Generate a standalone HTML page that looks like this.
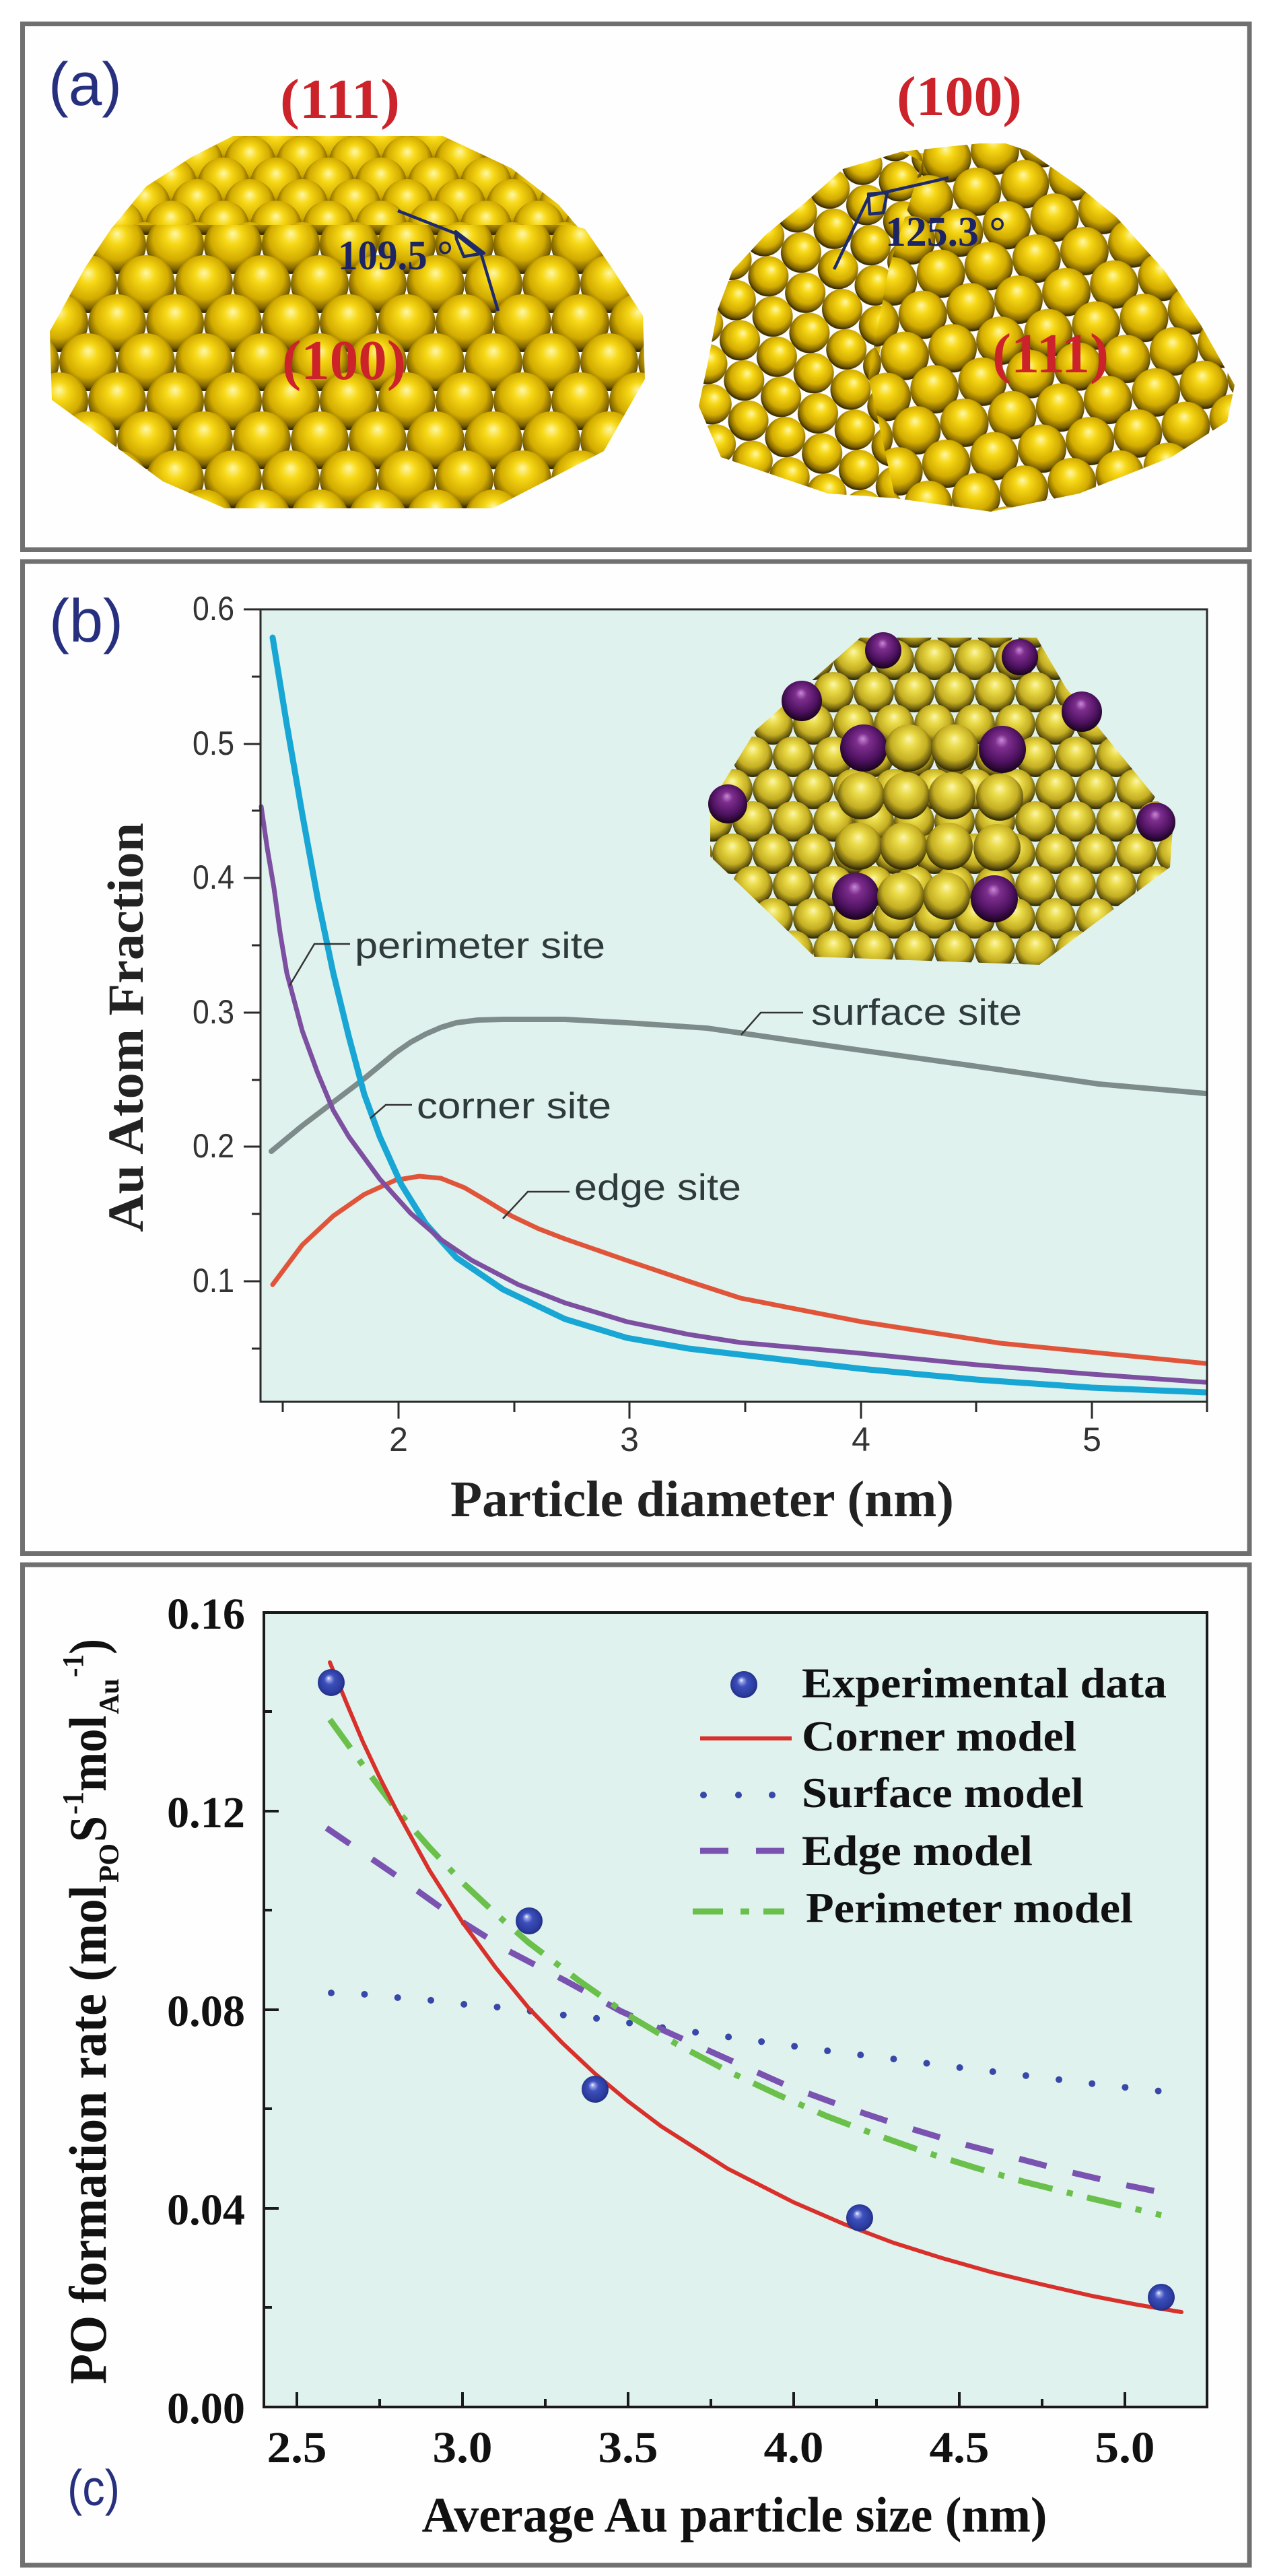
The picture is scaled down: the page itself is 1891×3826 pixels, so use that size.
<!DOCTYPE html>
<html><head><meta charset="utf-8"><style>html,body{margin:0;padding:0;background:#fff}svg{display:block}</style></head>
<body>
<svg xmlns="http://www.w3.org/2000/svg" width="1891" height="3826" viewBox="0 0 1891 3826">
<defs>
<radialGradient id="gY" cx="0.5" cy="0.42" r="0.56" fx="0.5" fy="0.3">
<stop offset="0" stop-color="#fff8a8"/><stop offset="0.28" stop-color="#f7d816"/><stop offset="0.68" stop-color="#d2ab00"/><stop offset="0.9" stop-color="#7d6200"/><stop offset="1" stop-color="#3a2c00"/>
</radialGradient>
<radialGradient id="gI" cx="0.5" cy="0.42" r="0.56" fx="0.5" fy="0.3">
<stop offset="0" stop-color="#fcf6b0"/><stop offset="0.28" stop-color="#eadb48"/><stop offset="0.68" stop-color="#c4ae22"/><stop offset="0.9" stop-color="#6a5c10"/><stop offset="1" stop-color="#332c06"/>
</radialGradient>
<radialGradient id="gP" cx="0.5" cy="0.42" r="0.56" fx="0.48" fy="0.3">
<stop offset="0" stop-color="#c88ad6"/><stop offset="0.25" stop-color="#7e2e8e"/><stop offset="0.7" stop-color="#4e1260"/><stop offset="1" stop-color="#1c0422"/>
</radialGradient>
<radialGradient id="gB" cx="0.5" cy="0.5" r="0.55" fx="0.4" fy="0.33">
<stop offset="0" stop-color="#ffffff"/><stop offset="0.12" stop-color="#9aa6e6"/><stop offset="0.35" stop-color="#3c4fbc"/><stop offset="0.8" stop-color="#2a3a9c"/><stop offset="1" stop-color="#1a2470"/>
</radialGradient>
<pattern id="pBig" patternUnits="userSpaceOnUse" width="86" height="116" x="45" y="103">
<circle cx="0" cy="-29" r="43" fill="url(#gY)"/><circle cx="86" cy="-29" r="43" fill="url(#gY)"/>
<circle cx="43" cy="29" r="43" fill="url(#gY)"/>
<circle cx="0" cy="87" r="43" fill="url(#gY)"/><circle cx="86" cy="87" r="43" fill="url(#gY)"/>
<circle cx="43" cy="145" r="43" fill="url(#gY)"/>
</pattern>
<pattern id="pTop" patternUnits="userSpaceOnUse" width="78" height="64" x="20" y="224">
<circle cx="0" cy="-16" r="38" fill="url(#gY)"/><circle cx="78" cy="-16" r="38" fill="url(#gY)"/>
<circle cx="39" cy="16" r="38" fill="url(#gY)"/>
<circle cx="0" cy="48" r="38" fill="url(#gY)"/><circle cx="78" cy="48" r="38" fill="url(#gY)"/>
<circle cx="39" cy="80" r="38" fill="url(#gY)"/>
</pattern>
<pattern id="pRL" patternUnits="userSpaceOnUse" width="60" height="104" x="0" y="0" patternTransform="rotate(24 1200 500)">
<circle cx="0" cy="-26" r="30" fill="url(#gY)"/><circle cx="60" cy="-26" r="30" fill="url(#gY)"/>
<circle cx="30" cy="26" r="30" fill="url(#gY)"/>
<circle cx="0" cy="78" r="30" fill="url(#gY)"/><circle cx="60" cy="78" r="30" fill="url(#gY)"/>
<circle cx="30" cy="130" r="30" fill="url(#gY)"/>
</pattern>
<pattern id="pR" patternUnits="userSpaceOnUse" width="72" height="112" x="10" y="20" patternTransform="rotate(-9 1550 500)">
<circle cx="0" cy="-28" r="36" fill="url(#gY)"/><circle cx="72" cy="-28" r="36" fill="url(#gY)"/>
<circle cx="36" cy="28" r="36" fill="url(#gY)"/>
<circle cx="0" cy="84" r="36" fill="url(#gY)"/><circle cx="72" cy="84" r="36" fill="url(#gY)"/>
<circle cx="36" cy="140" r="36" fill="url(#gY)"/>
</pattern>
<pattern id="pI" patternUnits="userSpaceOnUse" width="60" height="96" x="1058" y="956">
<circle cx="0" cy="-24" r="30" fill="url(#gI)"/><circle cx="60" cy="-24" r="30" fill="url(#gI)"/>
<circle cx="30" cy="24" r="30" fill="url(#gI)"/>
<circle cx="0" cy="72" r="30" fill="url(#gI)"/><circle cx="60" cy="72" r="30" fill="url(#gI)"/>
<circle cx="30" cy="120" r="30" fill="url(#gI)"/>
</pattern>
</defs>

<!-- Panel frames -->
<rect x="33.5" y="35.5" width="1822.5" height="781" fill="#fefefe" stroke="#707070" stroke-width="7"/>
<rect x="33.5" y="834" width="1822.5" height="1473.5" fill="#fefefe" stroke="#707070" stroke-width="7"/>
<rect x="33.5" y="2324" width="1822.5" height="1486" fill="#fefefe" stroke="#707070" stroke-width="7"/>

<!-- ===== Panel (a) ===== -->
<text x="72" y="156" font-family="Liberation Sans, sans-serif" font-size="90" fill="#27307f" textLength="109" lengthAdjust="spacingAndGlyphs">(a)</text>
<text x="416" y="175" font-family="Liberation Serif, serif" font-weight="bold" font-size="84" fill="#cc2229" textLength="178" lengthAdjust="spacingAndGlyphs">(111)</text>
<text x="1332" y="171" font-family="Liberation Serif, serif" font-weight="bold" font-size="84" fill="#cc2229" textLength="186" lengthAdjust="spacingAndGlyphs">(100)</text>

<!-- left cluster -->
<polygon points="346,202 658,202 760,250 830,304 865,345 860,372 170,372 165,340 217,277 285,233" fill="url(#pTop)"/>
<polygon points="175,334 848,334 869,340 909,398 955,469 958,563 897,670 732,755 334,755 242,715 77,594 74,492 126,398 165,340" fill="url(#pBig)"/>

<!-- right cluster -->
<polygon points="1252,251 1340,225 1400,230 1330,400 1300,560 1330,740 1230,733 1071,679 1038,603 1052,536 1066,460 1088,402 1137,349 1197,300" fill="url(#pRL)"/>
<polygon points="1340,225 1455,213 1494,213 1527,224 1603,277 1658,322 1730,402 1784,483 1834,572 1823,626 1740,679 1603,733 1472,760 1330,740 1290,560 1320,400 1370,240" fill="url(#pR)"/>

<!-- angle annotations -->
<g fill="none" stroke="#1e2a6e" stroke-width="4.5" stroke-linejoin="round">
<polyline points="591,313 675,346 715,378 740,462"/>
<polygon points="677,344 719,376 689,381 678,355"/>
<polyline points="1239,400 1291,291 1409,264"/>
<polygon points="1290,288 1318,286 1312,316 1292,318"/>
</g>
<text x="502" y="400" font-family="Liberation Serif, serif" font-weight="bold" font-size="62" fill="#1c2466" textLength="171" lengthAdjust="spacingAndGlyphs">109.5 °</text>
<text x="1315" y="365" font-family="Liberation Serif, serif" font-weight="bold" font-size="62" fill="#1c2466" textLength="179" lengthAdjust="spacingAndGlyphs">125.3 °</text>
<text x="419" y="563" font-family="Liberation Serif, serif" font-weight="bold" font-size="84" fill="#cc2229" textLength="184" lengthAdjust="spacingAndGlyphs">(100)</text>
<text x="1474" y="553" font-family="Liberation Serif, serif" font-weight="bold" font-size="84" fill="#cc2229" textLength="173" lengthAdjust="spacingAndGlyphs">(111)</text>

<!-- ===== Panel (b) ===== -->
<text x="73" y="953" font-family="Liberation Sans, sans-serif" font-size="90" fill="#27307f" textLength="110" lengthAdjust="spacingAndGlyphs">(b)</text>
<rect x="387" y="905" width="1406" height="1177" fill="#e0f2ee"/>

<!-- inset cluster -->
<polygon points="1278,947 1540,947 1583,1021 1743,1217 1738,1288 1544,1433 1210,1421 1055,1272 1055,1194 1123,1084" fill="url(#pI)"/>
<g>
<circle cx="1312" cy="966" r="27" fill="url(#gP)"/>
<circle cx="1515" cy="976" r="27" fill="url(#gP)"/>
<circle cx="1191" cy="1041" r="30" fill="url(#gP)"/>
<circle cx="1607" cy="1057" r="30" fill="url(#gP)"/>
<circle cx="1081" cy="1194" r="29" fill="url(#gP)"/>
<circle cx="1717" cy="1221" r="29" fill="url(#gP)"/>
</g>
<g>
<circle cx="1283" cy="1111" r="35" fill="url(#gP)"/><circle cx="1350" cy="1111" r="35" fill="url(#gI)"/><circle cx="1418" cy="1111" r="35" fill="url(#gI)"/><circle cx="1489" cy="1113" r="35" fill="url(#gP)"/>
<circle cx="1279" cy="1182" r="35" fill="url(#gI)"/><circle cx="1346" cy="1182" r="35" fill="url(#gI)"/><circle cx="1414" cy="1182" r="35" fill="url(#gI)"/><circle cx="1485" cy="1184" r="35" fill="url(#gI)"/>
<circle cx="1275" cy="1257" r="35" fill="url(#gI)"/><circle cx="1342" cy="1257" r="35" fill="url(#gI)"/><circle cx="1410" cy="1257" r="35" fill="url(#gI)"/><circle cx="1481" cy="1259" r="35" fill="url(#gI)"/>
<circle cx="1271" cy="1331" r="35" fill="url(#gP)"/><circle cx="1338" cy="1331" r="35" fill="url(#gI)"/><circle cx="1406" cy="1331" r="35" fill="url(#gI)"/><circle cx="1477" cy="1335" r="35" fill="url(#gP)"/>
</g>

<!-- curves (b) -->
<g fill="none" stroke-linejoin="round" stroke-linecap="round">
<polyline stroke="#7d8c8a" stroke-width="8" points="403,1710 449,1672 495,1637 541,1602 587,1564 610,1548 632,1536 655,1526 678,1519 710,1515 747,1514 839,1514 931,1519 1050,1527 1244,1555 1438,1582 1632,1610 1790,1624"/>
<polyline stroke="#e0553a" stroke-width="7" points="405,1908 449,1849 495,1806 541,1774 587,1753 623,1747 655,1750 690,1764 724,1784 760,1806 800,1825 839,1840 885,1856 931,1872 1023,1903 1100,1928 1279,1963 1486,1995 1790,2025"/>
<polyline stroke="#18a6d4" stroke-width="9" points="405,947 426,1076 449,1209 472,1335 495,1445 518,1539 541,1625 564,1688 596,1759 632,1817 678,1868 747,1915 839,1959 931,1987 1023,2003 1100,2012 1279,2033 1450,2049 1622,2061 1790,2068"/>
<polyline stroke="#7d4fa0" stroke-width="7" points="388,1198 397,1260 407,1319 416,1385 426,1445 449,1531 472,1594 495,1649 518,1688 564,1751 610,1802 655,1841 701,1872 770,1908 839,1935 931,1963 1023,1982 1100,1994 1279,2010 1450,2027 1622,2041 1790,2053"/>
</g>

<!-- leaders & labels (b) -->
<g fill="none" stroke="#333" stroke-width="2.5">
<polyline points="430,1464 467,1402 520,1402"/>
<polyline points="550,1661 573,1641 612,1641"/>
<polyline points="747,1810 784,1770 846,1770"/>
<polyline points="1101,1537 1130,1504 1193,1504"/>
</g>
<g font-family="Liberation Sans, sans-serif" font-size="55" fill="#2f3b3b">
<text x="527" y="1423" textLength="372" lengthAdjust="spacingAndGlyphs">perimeter site</text>
<text x="619" y="1661" textLength="289" lengthAdjust="spacingAndGlyphs">corner site</text>
<text x="853" y="1782" textLength="248" lengthAdjust="spacingAndGlyphs">edge site</text>
<text x="1205" y="1522" textLength="313" lengthAdjust="spacingAndGlyphs">surface site</text>
</g>

<!-- axes (b) -->
<rect x="387" y="905" width="1406" height="1177" fill="none" stroke="#2a2a2a" stroke-width="3"/>
<g stroke="#2a2a2a" stroke-width="3">
<line x1="420" y1="2082" x2="420" y2="2097"/><line x1="592" y1="2082" x2="592" y2="2107"/>
<line x1="764" y1="2082" x2="764" y2="2097"/><line x1="935" y1="2082" x2="935" y2="2107"/>
<line x1="1107" y1="2082" x2="1107" y2="2097"/><line x1="1279" y1="2082" x2="1279" y2="2107"/>
<line x1="1450" y1="2082" x2="1450" y2="2097"/><line x1="1622" y1="2082" x2="1622" y2="2107"/>
<line x1="1793" y1="2082" x2="1793" y2="2097"/>
<line x1="362" y1="905" x2="387" y2="905"/><line x1="374" y1="1005" x2="387" y2="1005"/>
<line x1="362" y1="1105" x2="387" y2="1105"/><line x1="374" y1="1204" x2="387" y2="1204"/>
<line x1="362" y1="1304" x2="387" y2="1304"/><line x1="374" y1="1404" x2="387" y2="1404"/>
<line x1="362" y1="1504" x2="387" y2="1504"/><line x1="374" y1="1604" x2="387" y2="1604"/>
<line x1="362" y1="1703" x2="387" y2="1703"/><line x1="374" y1="1803" x2="387" y2="1803"/>
<line x1="362" y1="1903" x2="387" y2="1903"/><line x1="374" y1="2003" x2="387" y2="2003"/>
</g>
<g font-family="Liberation Sans, sans-serif" font-size="50" fill="#333" text-anchor="end">
<text x="348" y="921" textLength="62" lengthAdjust="spacingAndGlyphs">0.6</text>
<text x="348" y="1121" textLength="62" lengthAdjust="spacingAndGlyphs">0.5</text>
<text x="348" y="1320" textLength="62" lengthAdjust="spacingAndGlyphs">0.4</text>
<text x="348" y="1520" textLength="62" lengthAdjust="spacingAndGlyphs">0.3</text>
<text x="348" y="1719" textLength="62" lengthAdjust="spacingAndGlyphs">0.2</text>
<text x="348" y="1919" textLength="62" lengthAdjust="spacingAndGlyphs">0.1</text>
</g>
<g font-family="Liberation Sans, sans-serif" font-size="50" fill="#333" text-anchor="middle">
<text x="592" y="2155">2</text><text x="935" y="2155">3</text><text x="1279" y="2155">4</text><text x="1622" y="2155">5</text>
</g>
<text transform="translate(212,1526) rotate(-90)" text-anchor="middle" font-family="Liberation Serif, serif" font-weight="bold" font-size="75" fill="#222" textLength="608" lengthAdjust="spacingAndGlyphs">Au Atom Fraction</text>
<text x="1043" y="2252" text-anchor="middle" font-family="Liberation Serif, serif" font-weight="bold" font-size="76" fill="#222" textLength="748" lengthAdjust="spacingAndGlyphs">Particle diameter (nm)</text>

<!-- ===== Panel (c) ===== -->
<rect x="392" y="2395" width="1401" height="1180" fill="#dff2ee"/>
<g fill="none" stroke-linejoin="round">
<polyline stroke="#3848a8" stroke-width="10" stroke-linecap="round" stroke-dasharray="0 49.5" points="492,2960 542,2962 591,2967 641,2971 690,2977 739,2981 789,2987 839,2993 888,2998 938,3005 1037,3019 1136,3033 1236,3047 1335,3059 1434,3072 1534,3084 1633,3096 1733,3107"/>
<polyline stroke="#7a52b0" stroke-width="9" stroke-dasharray="42 40" points="485,2715 589,2786 670,2844 756,2898 842,2943 922,2987 1089,3062 1170,3098 1254,3129 1338,3157 1421,3182 1505,3204 1589,3226 1670,3245 1753,3262"/>
<polyline stroke="#6ac04a" stroke-width="9" stroke-dasharray="52 22 9 22" points="490,2554 540,2623 589,2688 638,2744 687,2796 736,2842 785,2885 859,2941 933,2993 1007,3037 1081,3076 1155,3111 1228,3143 1302,3171 1376,3197 1450,3220 1523,3241 1624,3266 1725,3290"/>
<polyline stroke="#d8302a" stroke-width="6" stroke-linecap="round" points="490,2469 515,2530 539,2587 564,2640 589,2689 638,2778 687,2855 736,2922 785,2982 835,3034 884,3080 933,3121 982,3158 1081,3221 1179,3271 1253,3303 1327,3331 1400,3354 1474,3375 1548,3393 1622,3410 1689,3423 1755,3434"/>
</g>
<g>
<circle cx="492" cy="2499" r="20" fill="url(#gB)"/>
<circle cx="786" cy="2853" r="20" fill="url(#gB)"/>
<circle cx="884" cy="3103" r="20" fill="url(#gB)"/>
<circle cx="1277" cy="3294" r="20" fill="url(#gB)"/>
<circle cx="1725" cy="3412" r="20" fill="url(#gB)"/>
</g>

<!-- legend (c) -->
<circle cx="1105" cy="2502" r="20" fill="url(#gB)"/>
<line x1="1040" y1="2582" x2="1176" y2="2582" stroke="#d8302a" stroke-width="6"/>
<g fill="#3848a8"><circle cx="1045" cy="2666" r="5"/><circle cx="1097" cy="2666" r="5"/><circle cx="1147" cy="2666" r="5"/></g>
<g stroke="#7a52b0" stroke-width="9"><line x1="1040" y1="2749" x2="1082" y2="2749"/><line x1="1123" y1="2749" x2="1165" y2="2749"/></g>
<g stroke="#6ac04a" stroke-width="9"><line x1="1029" y1="2839" x2="1074" y2="2839"/><line x1="1100" y1="2839" x2="1113" y2="2839"/><line x1="1134" y1="2839" x2="1165" y2="2839"/></g>
<g font-family="Liberation Serif, serif" font-weight="bold" font-size="64" fill="#111">
<text x="1191" y="2521" textLength="542" lengthAdjust="spacingAndGlyphs">Experimental data</text>
<text x="1191" y="2600" textLength="408" lengthAdjust="spacingAndGlyphs">Corner model</text>
<text x="1191" y="2684" textLength="419" lengthAdjust="spacingAndGlyphs">Surface model</text>
<text x="1191" y="2770" textLength="343" lengthAdjust="spacingAndGlyphs">Edge model</text>
<text x="1197" y="2855" textLength="486" lengthAdjust="spacingAndGlyphs">Perimeter model</text>
</g>

<!-- axes (c) -->
<rect x="392" y="2395" width="1401" height="1180" fill="none" stroke="#1a1a1a" stroke-width="4"/>
<g stroke="#1a1a1a" stroke-width="4">
<line x1="441" y1="3575" x2="441" y2="3553"/><line x1="564" y1="3575" x2="564" y2="3563"/>
<line x1="687" y1="3575" x2="687" y2="3553"/><line x1="810" y1="3575" x2="810" y2="3563"/>
<line x1="933" y1="3575" x2="933" y2="3553"/><line x1="1056" y1="3575" x2="1056" y2="3563"/>
<line x1="1179" y1="3575" x2="1179" y2="3553"/><line x1="1302" y1="3575" x2="1302" y2="3563"/>
<line x1="1425" y1="3575" x2="1425" y2="3553"/><line x1="1548" y1="3575" x2="1548" y2="3563"/>
<line x1="1671" y1="3575" x2="1671" y2="3553"/>
<line x1="392" y1="2542" x2="404" y2="2542"/><line x1="392" y1="2690" x2="414" y2="2690"/>
<line x1="392" y1="2837" x2="404" y2="2837"/><line x1="392" y1="2985" x2="414" y2="2985"/>
<line x1="392" y1="3132" x2="404" y2="3132"/><line x1="392" y1="3280" x2="414" y2="3280"/>
<line x1="392" y1="3427" x2="404" y2="3427"/>
</g>
<g font-family="Liberation Serif, serif" font-weight="bold" font-size="66" fill="#111" text-anchor="end">
<text x="364" y="2419" textLength="116" lengthAdjust="spacingAndGlyphs">0.16</text>
<text x="364" y="2714" textLength="116" lengthAdjust="spacingAndGlyphs">0.12</text>
<text x="364" y="3009" textLength="116" lengthAdjust="spacingAndGlyphs">0.08</text>
<text x="364" y="3304" textLength="116" lengthAdjust="spacingAndGlyphs">0.04</text>
<text x="364" y="3599" textLength="116" lengthAdjust="spacingAndGlyphs">0.00</text>
</g>
<g font-family="Liberation Serif, serif" font-weight="bold" font-size="66" fill="#111" text-anchor="middle">
<text x="441" y="3657" textLength="89" lengthAdjust="spacingAndGlyphs">2.5</text>
<text x="687" y="3657" textLength="89" lengthAdjust="spacingAndGlyphs">3.0</text>
<text x="933" y="3657" textLength="89" lengthAdjust="spacingAndGlyphs">3.5</text>
<text x="1179" y="3657" textLength="89" lengthAdjust="spacingAndGlyphs">4.0</text>
<text x="1425" y="3657" textLength="89" lengthAdjust="spacingAndGlyphs">4.5</text>
<text x="1671" y="3657" textLength="89" lengthAdjust="spacingAndGlyphs">5.0</text>
</g>
<text x="1091" y="3760" text-anchor="middle" font-family="Liberation Serif, serif" font-weight="bold" font-size="74" fill="#111" textLength="929" lengthAdjust="spacingAndGlyphs">Average Au particle size (nm)</text>
<g transform="translate(157,3541) rotate(-90)" font-family="Liberation Serif, serif" font-weight="bold" fill="#111">
<text x="0" y="0" font-size="78" textLength="741" lengthAdjust="spacingAndGlyphs">PO formation rate (mol</text>
<text x="745" y="19" font-size="42" textLength="58" lengthAdjust="spacingAndGlyphs">PO</text>
<text x="805" y="0" font-size="78" textLength="39" lengthAdjust="spacingAndGlyphs">S</text>
<text x="846" y="-34" font-size="44" textLength="34" lengthAdjust="spacingAndGlyphs">-1</text>
<text x="880" y="0" font-size="78" textLength="113" lengthAdjust="spacingAndGlyphs">mol</text>
<text x="995" y="19" font-size="42" textLength="53" lengthAdjust="spacingAndGlyphs">Au</text>
<text x="1050" y="-34" font-size="44" textLength="34" lengthAdjust="spacingAndGlyphs">-1</text>
<text x="1084" y="0" font-size="78" textLength="23" lengthAdjust="spacingAndGlyphs">)</text>
</g>
<text x="100" y="3721" font-family="Liberation Sans, sans-serif" font-size="75" fill="#27307f" textLength="78" lengthAdjust="spacingAndGlyphs">(c)</text>
</svg>
</body></html>
